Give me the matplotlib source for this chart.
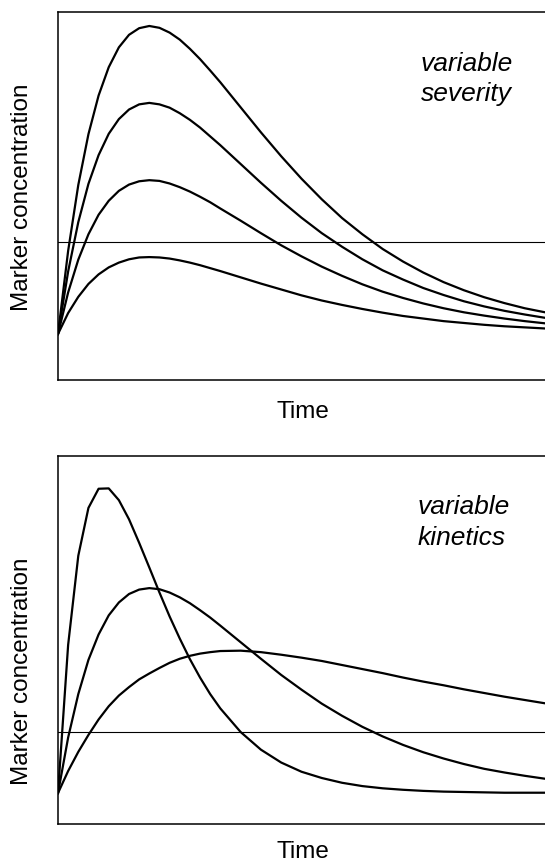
import matplotlib.pyplot as plt

plt.rcParams["font.family"] = ["Liberation Sans", "DejaVu Sans"]

# time axis (arbitrary units) shared by every curve
time = [0, 1, 2, 3, 4, 5, 6, 7, 8, 9, 10, 11, 12, 13, 14, 15, 16,
        18, 20, 22, 24, 26, 28, 30, 32, 34, 36, 38, 40, 42, 44, 46, 48]

# top panel: same kinetics, variable severity
severity_1 = [12.5, 18.2, 22.6, 26.1, 28.7, 30.6, 31.9, 32.8, 33.3, 33.4, 33.3, 33.0, 32.5, 31.9, 31.2, 30.4, 29.6,
              27.9, 26.2, 24.6, 23.0, 21.6, 20.4, 19.3, 18.3, 17.4, 16.7, 16.0, 15.5, 15.0, 14.6, 14.3, 14.0]
severity_2 = [12.5, 23.8, 32.7, 39.6, 44.9, 48.7, 51.4, 53.1, 54.0, 54.3, 54.1, 53.4, 52.4, 51.2, 49.8, 48.3, 46.6,
              43.3, 39.9, 36.6, 33.6, 30.8, 28.3, 26.0, 24.0, 22.3, 20.8, 19.5, 18.4, 17.5, 16.7, 16.0, 15.4]
severity_3 = [12.5, 29.5, 42.9, 53.3, 61.1, 66.9, 70.9, 73.5, 74.9, 75.3, 74.9, 74.0, 72.5, 70.7, 68.6, 66.2, 63.8,
              58.7, 53.6, 48.7, 44.1, 39.9, 36.2, 32.8, 29.8, 27.3, 25.0, 23.1, 21.4, 20.0, 18.8, 17.8, 16.9]
severity_4 = [12.5, 35.1, 53.0, 66.8, 77.3, 85.0, 90.4, 93.8, 95.6, 96.2, 95.7, 94.4, 92.5, 90.0, 87.2, 84.1, 80.9,
              74.1, 67.3, 60.8, 54.7, 49.1, 44.0, 39.6, 35.6, 32.2, 29.2, 26.6, 24.4, 22.5, 20.9, 19.5, 18.4]
threshold_top = 37.5

# bottom panel: variable kinetics
kinetics_fast = [8.4, 48.7, 72.9, 85.9, 91.1, 91.2, 88.0, 82.8, 76.4, 69.7, 62.9, 56.4, 50.4, 44.8, 39.8, 35.3, 31.4,
                 25.0, 20.2, 16.7, 14.2, 12.5, 11.2, 10.3, 9.7, 9.3, 9.0, 8.8, 8.7, 8.6, 8.5, 8.5, 8.5]
kinetics_mid = [8.4, 23.5, 35.3, 44.6, 51.5, 56.7, 60.2, 62.5, 63.7, 64.1, 63.8, 62.9, 61.6, 60.0, 58.1, 56.1, 53.9,
                49.4, 44.9, 40.5, 36.5, 32.7, 29.4, 26.4, 23.8, 21.5, 19.5, 17.8, 16.3, 15.0, 14.0, 13.1, 12.3]
kinetics_slow = [8.4, 14.4, 19.6, 24.2, 28.4, 32.0, 34.9, 37.2, 39.3, 40.9, 42.4, 43.8, 44.9, 45.7, 46.3, 46.7, 47.0,
                 47.1, 46.7, 46.0, 45.2, 44.3, 43.2, 42.1, 41.0, 39.8, 38.7, 37.7, 36.6, 35.6, 34.6, 33.7, 32.8]
threshold_bottom = 25.0

W, H = 545, 863
fig = plt.figure(figsize=(W / 100, H / 100), dpi=100)


def px_axes(left, top, right, bottom):
    return fig.add_axes([left / W, 1 - bottom / H, (right - left) / W, (bottom - top) / H])


def style(ax):
    ax.set_xlim(0, 48)
    ax.set_ylim(0, 100)
    ax.set_xticks([])
    ax.set_yticks([])
    ax.spines["right"].set_visible(False)
    for s in ["left", "top", "bottom"]:
        ax.spines[s].set_linewidth(1.1)


ax1 = px_axes(58, 12, 545, 380)
style(ax1)
for series in [severity_1, severity_2, severity_3, severity_4]:
    ax1.plot(time, series, color="black", lw=1.6)
ax1.axhline(threshold_top, color="black", lw=0.8)

ax2 = px_axes(58, 456, 545, 824)
style(ax2)
for series in [kinetics_fast, kinetics_mid, kinetics_slow]:
    ax2.plot(time, series, color="black", lw=1.6)
ax2.axhline(threshold_bottom, color="black", lw=0.8)

fs = 17.5
fig.text(303 / W, 1 - 418 / H, "Time", ha="center", va="baseline", fontsize=fs)
fig.text(303 / W, 1 - 858 / H, "Time", ha="center", va="baseline", fontsize=fs)
fig.text(22 / W, 1 - 197 / H, "Marker concentration", rotation=90, ha="center", va="center", fontsize=fs)
fig.text(22 / W, 1 - 671 / H, "Marker concentration", rotation=90, ha="center", va="center", fontsize=fs)

fi = 19
fig.text(421 / W, 1 - 71 / H, "variable", style="italic", ha="left", va="baseline", fontsize=fi)
fig.text(421 / W, 1 - 101 / H, "severity", style="italic", ha="left", va="baseline", fontsize=fi)
fig.text(418 / W, 1 - 514 / H, "variable", style="italic", ha="left", va="baseline", fontsize=fi)
fig.text(418 / W, 1 - 545 / H, "kinetics", style="italic", ha="left", va="baseline", fontsize=fi)

fig.savefig("out.png", dpi=100)
